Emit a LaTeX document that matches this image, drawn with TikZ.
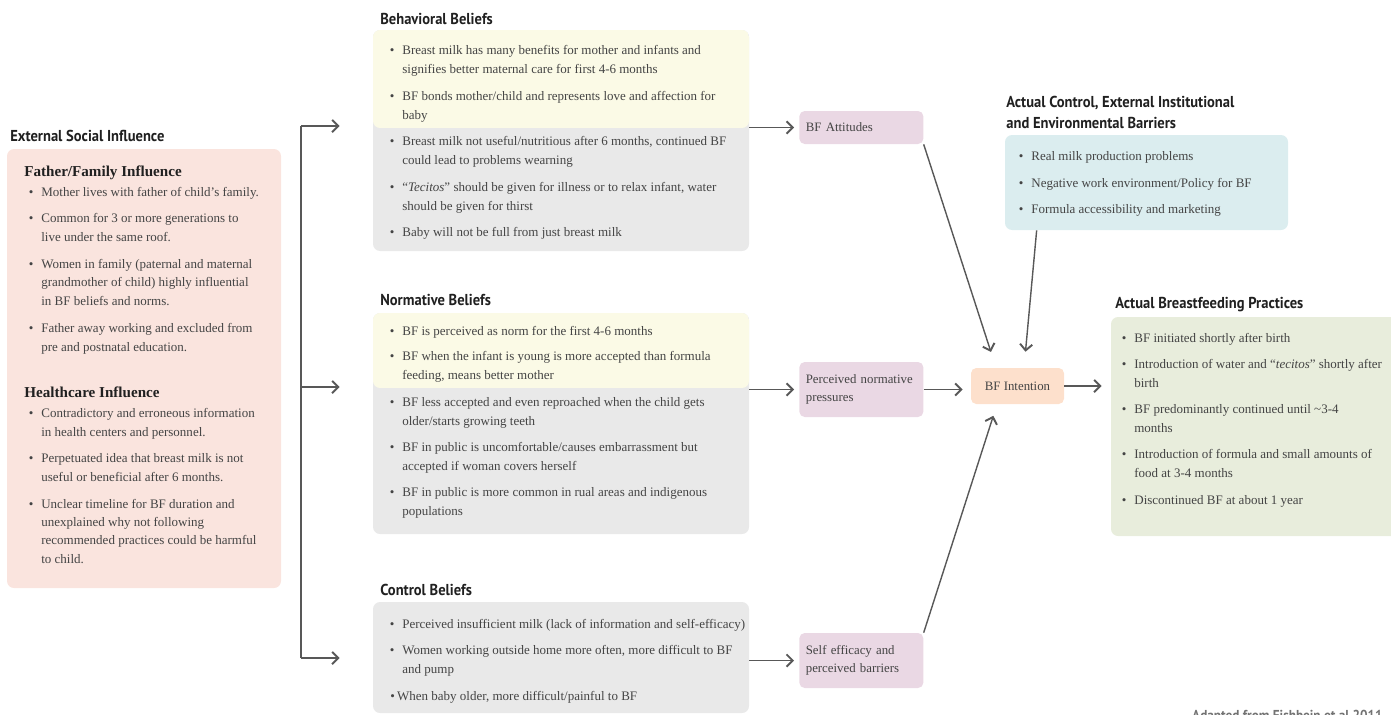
\documentclass[tikz,border=0pt]{standalone}
\usepackage{fontspec}
\setmainfont{Liberation Serif}
\newfontfamily\headfont[FakeStretch=0.92]{PT Sans}
\usetikzlibrary{arrows.meta,fit}

\definecolor{pinkbg}{RGB}{250,228,222}
\definecolor{yellowbg}{RGB}{251,250,230}
\definecolor{graybg}{RGB}{233,233,233}
\definecolor{purplebg}{RGB}{234,216,228}
\definecolor{orangebg}{RGB}{253,224,204}
\definecolor{bluebg}{RGB}{219,237,239}
\definecolor{greenbg}{RGB}{232,237,220}
\definecolor{bodytxt}{RGB}{68,68,68}
\definecolor{headtxt}{RGB}{32,32,32}
\definecolor{arrowgray}{RGB}{88,88,88}

\newcommand{\itm}{\llap{\textbullet\hspace{4.5pt}}}

\begin{document}
\begin{tikzpicture}[x=0.02cm,y=-0.02cm,
    txt/.style={anchor=base west, inner sep=0pt, align=left, text=bodytxt, font=\fontsize{7.4}{10.35}\selectfont},
    head/.style={anchor=base west, inner sep=0pt, align=left, text=headtxt, font=\headfont\bfseries\fontsize{9}{11.4}\selectfont},
    sub/.style={anchor=base west, inner sep=0pt, text=headtxt, font=\bfseries\fontsize{8.6}{10}\selectfont},
    bg/.style={rounded corners=4pt, inner sep=0pt},
    mid/.style={anchor=west, rounded corners=3pt, fill=purplebg, text=bodytxt, align=left, inner xsep=0.13cm, text width=2.22cm, font=\fontsize{7.3}{10.35}\selectfont},
    arr/.style={draw=arrowgray, line width=0.8pt, -{Straight Barb[length=3.5pt,width=7pt,line width=1.1pt]}}]
  \useasboundingbox (0,0) rectangle (1391,714);
  \clip (0,0) rectangle (1391,714);

  % boxes
  \node[bg, fill=pinkbg, fit={(7,149)(281,588)}] (social) {};
  \node[bg, fill=graybg, fit={(373,30)(749,251)}, path picture={\fill[yellowbg] (path picture bounding box.north west) rectangle ([yshift=-1.96cm]path picture bounding box.north east);}] (behbox) {};
  \node[bg, fill=graybg, fit={(373,313)(749,534)}, path picture={\fill[yellowbg] (path picture bounding box.north west) rectangle ([yshift=-1.5cm]path picture bounding box.north east);}] (normbox) {};
  \node[bg, fill=graybg, fit={(373,602)(749,713)}] (ctrlbox) {};
  \node[bg, fill=bluebg, fit={(1005,135)(1288,230)}] (barrier) {};
  \node[bg, fill=greenbg, fit={(1111,317)(1400,536)}] (pract) {};

  % titles (base = last line)
  \node[head] (socialhead) at (10,141) {External Social Influence};
  \node[head] (behhead) at (380,24) {Behavioral Beliefs};
  \node[head] (normhead) at (380,305) {Normative Beliefs};
  \node[head] (ctrlhead) at (380,595) {Control Beliefs};
  \node[head] (barrhead) at (1006,128) {Actual Control, External Institutional\\and Environmental Barriers};
  \node[head] (practhead) at (1115,308) {Actual Breastfeeding Practices};

  % external social influence
  \node[sub] (famhead) at (24,176) {Father/Family Influence};
  \foreach \y/\t in {196/{Mother lives with father of child’s family.},
      241/{Common for 3 or more generations to\\live under the same roof.},
      305/{Women in family (paternal and maternal\\grandmother of child) highly influential\\in BF beliefs and norms.},
      351/{Father away working and excluded from\\pre and postnatal education.}}
    \node[txt] (fam\y) at (41,\y) {\itm\t};
  \node[sub] (hchead) at (24,397) {Healthcare Influence};
  \foreach \y/\t in {436/{Contradictory and erroneous information\\in health centers and personnel.},
      481/{Perpetuated idea that breast milk is not\\useful or beneficial after 6 months.},
      563/{Unclear timeline for BF duration and\\unexplained why not following\\recommended practices could be harmful\\to child.}}
    \node[txt] (hc\y) at (41,\y) {\itm\t};

  % beliefs
  \foreach \y/\t in {73/{Breast milk has many benefits for mother and infants and\\signifies better maternal care for first 4-6 months},
      119/{BF bonds mother/child and represents love and affection for\\baby},
      164/{Breast milk not useful/nutritious after 6 months, continued BF\\could lead to problems wearning},
      210/{“\textit{Tecitos}” should be given for illness or to relax infant, water\\should be given for thirst},
      236/{Baby will not be full from just breast milk}}
    \node[txt] (beh\y) at (402,\y) {\itm\t};
  \foreach \y/\t in {335/{BF is perceived as norm for the first 4-6 months},
      379/{BF when the infant is young is more accepted than formula\\feeding, means better mother},
      425/{BF less accepted and even reproached when the child gets\\older/starts growing teeth},
      470/{BF in public is uncomfortable/causes embarrassment but\\accepted if woman covers herself},
      515/{BF in public is more common in rual areas and indigenous\\populations}}
    \node[txt] (norm\y) at (402,\y) {\itm\t};
  \foreach \y/\t in {628/{Perceived insufficient milk (lack of information and self-efficacy)},
      673/{Women working outside home more often, more difficult to BF\\and pump}}
    \node[txt] (ctrl\y) at (402,\y) {\itm\t};
  \node[txt] (ctrl700) at (390,700) {\textbullet\,When baby older, more difficult/painful to BF};

  % barriers and practices
  \foreach \y/\t in {160/{Real milk production problems},
      187/{Negative work environment/Policy for BF},
      213/{Formula accessibility and marketing}}
    \node[txt] (barr\y) at (1031,\y) {\itm\t};
  \foreach \y/\t in {342/{BF initiated shortly after birth},
      387/{Introduction of water and “\textit{tecitos}” shortly after\\birth},
      432/{BF predominantly continued until \textasciitilde3-4\\months},
      477/{Introduction of formula and small amounts of\\food at 3-4 months},
      504/{Discontinued BF at about 1 year}}
    \node[txt] (pr\y) at (1134,\y) {\itm\t};

  % middle column
  \node[mid, minimum height=0.66cm] (att) at (799,127.5) {BF Attitudes};
  \node[mid, minimum height=1.1cm] (press) at (799,389.5) {Perceived normative\\pressures};
  \node[mid, minimum height=1.1cm] (self) at (799,660.5) {Self efficacy and\\perceived barriers};
  \node[fill=orangebg, rounded corners=3pt, minimum width=1.86cm, minimum height=0.72cm, text=bodytxt, font=\fontsize{7.3}{10.35}\selectfont] (intent) at (1017.5,386) {BF Intention};

  % connectors
  \coordinate (brtop) at (301,126);
  \coordinate (brmid) at (301,387);
  \coordinate (brbot) at (301,658);
  \draw[draw=arrowgray, line width=0.8pt] (brtop) -- (brbot);
  \foreach \c/\b in {brtop/behbox, brmid/normbox, brbot/ctrlbox}
    \draw[arr, shorten >=0.66cm] (\c) -- (\c -| \b.west);
  \foreach \m/\b in {att/behbox, press/normbox, self/ctrlbox}
    \draw[arr, shorten >=0.1cm] (\m -| \b.east) -- (\m.west);
  \draw[arr, shorten >=0.33cm] (att.south east) -- ([xshift=-0.43cm]intent.north);
  \draw[arr, shorten >=0.32cm] ([xshift=0.64cm]barrier.south west) -- ([xshift=0.13cm]intent.north);
  \draw[arr, shorten >=0.24cm] (self.north east) -- ([xshift=-0.41cm]intent.south);
  \draw[arr, shorten >=0.16cm] (press.east) -- (press.east -| intent.west);
  \draw[arr, shorten >=0.18cm] (intent.east) -- (intent.east -| pract.west);

  \node[anchor=base east, inner sep=0pt, text=black!55, font=\headfont\bfseries\fontsize{8.2}{10}\selectfont] (adapted) at (1383,720) {Adapted from Fishbein et al 2011}; % cut by the page edge
\end{tikzpicture}
\end{document}
